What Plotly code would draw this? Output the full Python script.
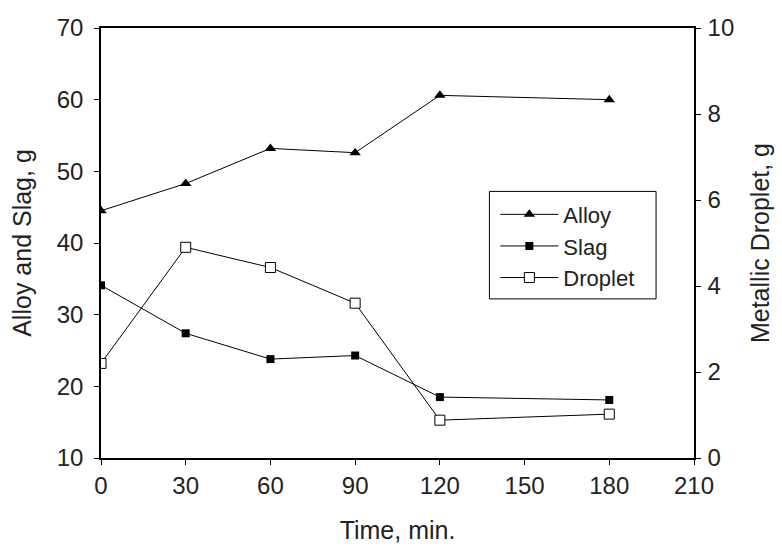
import plotly.graph_objects as go

time_min = [0, 30, 60, 90, 120, 180]
alloy_g = [44.5, 48.3, 53.2, 52.6, 60.6, 60.0]
slag_g = [34.1, 27.4, 23.8, 24.3, 18.5, 18.1]
droplet_g = [2.2, 4.9, 4.43, 3.6, 0.88, 1.02]

x_ticks = [0, 30, 60, 90, 120, 150, 180, 210]
y_ticks = [10, 20, 30, 40, 50, 60, 70]
y2_ticks = [0, 2, 4, 6, 8, 10]

FONT = "Liberation Sans, Arial, sans-serif"
FS = 25
TFS = 24

fig = go.Figure()
fig.add_trace(go.Scatter(
    x=time_min, y=alloy_g, name="Alloy", mode="lines+markers",
    line=dict(color="black", width=1),
    marker=dict(symbol="triangle-up", size=10, color="black"),
))
fig.add_trace(go.Scatter(
    x=time_min, y=slag_g, name="Slag", mode="lines+markers",
    line=dict(color="black", width=1),
    marker=dict(symbol="square", size=8, color="black"),
))
fig.add_trace(go.Scatter(
    x=time_min, y=droplet_g, name="Droplet", mode="lines+markers", yaxis="y2",
    line=dict(color="black", width=1),
    marker=dict(symbol="square", size=10, color="white",
                line=dict(color="black", width=1)),
))

axis_common = dict(
    showgrid=False, zeroline=False, showline=True, linecolor="black",
    linewidth=1.5, ticks="outside", ticklen=5, tickcolor="black",
    tickfont=dict(family=FONT, size=TFS, color="#222"),
)

fig.update_layout(
    width=782, height=552,
    margin=dict(l=101, r=84, t=28, b=92),
    paper_bgcolor="white", plot_bgcolor="white",
    font=dict(family=FONT, size=FS, color="#222"),
    showlegend=True,
    xaxis=dict(range=[0, 210], tickvals=x_ticks, mirror=True,
               title=dict(text="Time, min.", font=dict(size=FS), standoff=24),
               **axis_common),
    yaxis=dict(range=[10, 70], tickvals=y_ticks, ticklabelstandoff=6,
               title=dict(text="Alloy and Slag, g", font=dict(size=FS), standoff=18),
               **axis_common),
    yaxis2=dict(range=[0, 10], tickvals=y2_ticks, overlaying="y", side="right",
                ticklabelstandoff=2,
                title=dict(text="Metallic Droplet, g", font=dict(size=FS), standoff=18),
                **axis_common),
    legend=dict(
        x=0.665, y=0.615, xanchor="left", yanchor="top",
        bgcolor="rgba(0,0,0,0)", borderwidth=0,
        font=dict(family=FONT, size=22, color="#222"),
        itemwidth=58, tracegroupgap=0,
    ),
    shapes=[dict(
        type="rect", xref="paper", yref="paper",
        x0=0.655, x1=0.936, y0=0.370, y1=0.620,
        line=dict(color="black", width=1), fillcolor="white", layer="below",
    )],
)

fig.write_html("out.html")
